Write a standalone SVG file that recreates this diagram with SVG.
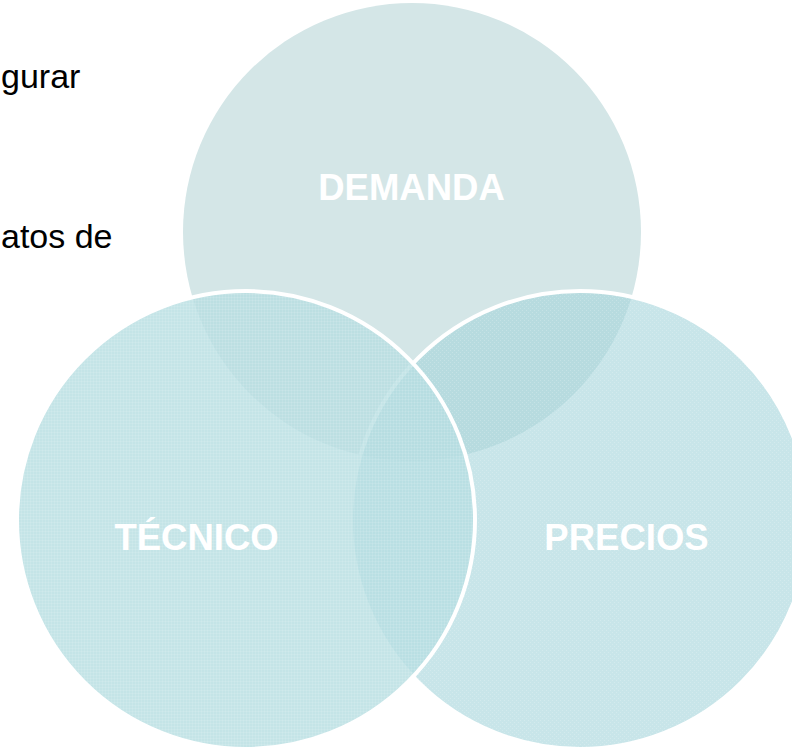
<svg xmlns="http://www.w3.org/2000/svg" width="792" height="748" viewBox="0 0 792 748">
  <defs>
    <pattern id="gridT" width="3" height="3" patternUnits="userSpaceOnUse">
      <rect x="0" y="0" width="3" height="1" fill="#ffffff" opacity="0.1"/>
      <rect x="0" y="0" width="1" height="3" fill="#ffffff" opacity="0.1"/>
    </pattern>
    <pattern id="diamP" width="4" height="4" patternUnits="userSpaceOnUse">
      <rect x="0" y="0" width="1" height="1" fill="#ffffff" opacity="0.2"/>
      <rect x="2" y="2" width="1" height="1" fill="#ffffff" opacity="0.2"/>
    </pattern>
  </defs>
  <style>
    .lbl { font-family: "Liberation Sans", Arial, sans-serif; font-weight: bold; font-size: 36.5px; fill: #ffffff; text-anchor: middle; }
    .body { font-family: "Liberation Sans", Arial, sans-serif; font-size: 34px; fill: #000000; }
    .ring { stroke: #ffffff; stroke-width: 4; }
  </style>
  <rect width="792" height="748" fill="#ffffff"/>
  <g id="bodytext">
    <text class="body" x="1" y="88">gurar</text>
    <text class="body" x="1" y="248">atos de</text>
  </g>
  <g id="demanda">
    <circle cx="412" cy="232" r="229" fill="#d4e6e7"/>
  </g>
  <g id="precios">
    <circle class="ring" cx="580" cy="520" r="229" fill="rgb(163,212,218)" fill-opacity="0.6"/>
    <circle cx="580" cy="520" r="227" fill="url(#diamP)"/>
  </g>
  <g id="tecnico">
    <circle class="ring" cx="246" cy="520" r="229" fill="rgb(181,221,225)" fill-opacity="0.8"/>
    <circle cx="246" cy="520" r="227" fill="url(#gridT)"/>
  </g>
  <g id="labels">
    <text class="lbl" x="411.5" y="200">DEMANDA</text>
    <text class="lbl" x="196.5" y="550">TÉCNICO</text>
    <text class="lbl" x="626.5" y="550">PRECIOS</text>
  </g>
</svg>
